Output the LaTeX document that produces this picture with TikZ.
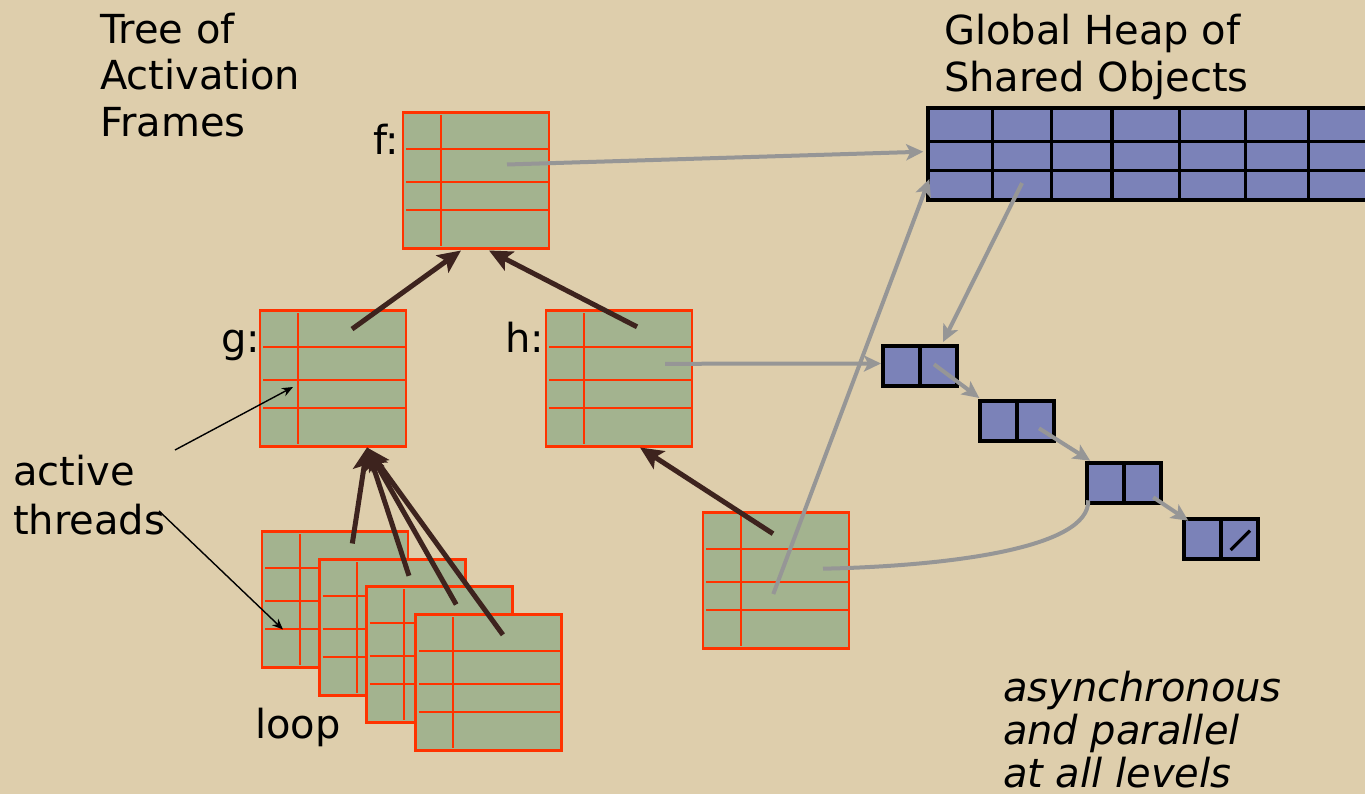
\documentclass[tikz,border=0pt]{standalone}
\usepackage{fontspec}
\setmainfont{DejaVu Sans}
\usetikzlibrary{arrows.meta,calc}

\definecolor{paper}{RGB}{222,206,172}
\definecolor{framefill}{RGB}{163,179,143}
\definecolor{framered}{RGB}{255,51,0}
\definecolor{heapfill}{RGB}{123,130,184}
\definecolor{ptrgray}{RGB}{150,150,150}
\definecolor{linkbrown}{RGB}{61,35,30}

\tikzset{
  actframe/.style={rectangle, draw=framered, fill=framefill, line width=2.2pt,
    minimum width=146pt, minimum height=136pt, inner sep=0pt, outer sep=0pt},
  framerule/.style={draw=framered, line width=2pt},
  heapbox/.style={rectangle, draw=black, fill=heapfill, line width=4pt, inner sep=0pt, outer sep=0pt},
  heaprule/.style={draw=black, line width=3.2pt},
  cons/.style={heapbox, minimum width=74pt, minimum height=40pt},
  ptr/.style={draw=ptrgray, line width=4pt, -{Stealth[length=17pt,width=16pt,inset=4pt]}},
  ptrline/.style={draw=ptrgray, line width=4pt},
  parent/.style={draw=linkbrown, line width=5pt, -{Stealth[length=23pt,width=21pt,inset=5pt]}},
  hint/.style={draw=black, line width=1.4pt, -{Stealth[length=11pt,width=9pt]}},
  txt/.style={font=\fontsize{40}{46.7}\selectfont, inner sep=0pt, outer sep=0pt, anchor=base west, align=left},
}

% inner rules of an activation frame: one column divider, three row dividers
\newcommand\framerules[1]{%
  \draw[framerule] ($(#1.north west)!0.26!(#1.north east)+(0,2.5)$) --
                   ($(#1.south west)!0.26!(#1.south east)+(0,-2.5)$);
  \foreach \fr in {0.27,0.51,0.72}{%
    \draw[framerule] ($(#1.north west)!\fr!(#1.south west)+(3,0)$) --
                     ($(#1.north east)!\fr!(#1.south east)$);
  }%
}
% divider of a two-field cons cell
\newcommand\consdivider[1]{%
  \draw[line width=4pt] (#1.north) -- (#1.south);%
}

\begin{document}
\begin{tikzpicture}[x=1pt, y=-1pt]
\useasboundingbox (0,0) rectangle (1365,794);
\fill[paper] (0,0) rectangle (1365,794);
\clip (0,0) rectangle (1365,794);

% ---- titles and labels (base anchor sits on the last line)
\node[txt] (title) at (100,136.7) {Tree of\\Activation\\Frames};
\node[txt] (heaptitle) at (944,91.7) {Global Heap of\\Shared Objects};
\node[txt] (flabel) at (373,155) {f:};
\node[txt] (glabel) at (221,352) {g:};
\node[txt] (hlabel) at (505,352) {h:};
\node[txt, font=\fontsize{40}{49}\selectfont] (threads) at (13,534) {active\\threads};
\node[txt] (looplabel) at (255,738) {loop};
\node[txt, font=\fontsize{40}{43}\selectfont\itshape] (note) at (1003,787) {asynchronous\\and parallel\\at all levels};

% ---- activation frames
\node[actframe] (f) at (476,180.5) {};
\framerules{f}
\node[actframe] (g) at (333,378.5) {};
\framerules{g}
\node[actframe] (h) at (619,378.5) {};
\framerules{h}
\node[actframe] (k) at (776,580.5) {};
\framerules{k}
\node[actframe] (l1) at (335,599.5) {};
\framerules{l1}
\node[actframe] (l2) at (392.5,627.5) {};
\framerules{l2}
\node[actframe] (l3) at (439.5,654.5) {};
\framerules{l3}
\node[actframe] (l4) at (488.5,682.5) {};
\framerules{l4}

% ---- global heap
\node[heapbox, minimum width=460pt, minimum height=91.7pt] (heap) at (1158.3,154.2) {};
\foreach \fr in {0.364,0.68}{%
  \draw[heaprule] ($(heap.north west)!\fr!(heap.south west)$) -- ($(heap.north east)!\fr!(heap.south east)$);
}
\foreach \dx in {64.4,123.4,183.7,251,317,380}{%
  \draw[heaprule] ($(heap.north west)+(\dx,0)$) -- ($(heap.south west)+(\dx,0)$);
}

% ---- linked list of cons cells
\node[cons] (c1) at (920,366) {};
\consdivider{c1}
\node[cons] (c2) at (1017.3,421) {};
\consdivider{c2}
\node[cons] (c3) at (1124.2,483.3) {};
\consdivider{c3}
\node[cons] (c4) at (1221.3,538.7) {};
\consdivider{c4}
\draw[line width=3.2pt] ($(c4.center)+(9.4,11.3)$) -- ($(c4.center)+(28.7,-8)$);

% ---- pointers into the heap
\draw[ptr] ($(f.center)+(31,-16)$) -- ($(heap.west)+(-5,-2.5)$);
\draw[ptr] ($(heap.north west)+(93.7,74.7)$) -- ($(c1.north)+(23,-4)$);
\draw[ptr] ($(h.center)+(46,-14.7)$) -- ($(c1.west)+(-2,-2.5)$);
\draw[ptr] ($(k.center)+(-2.7,13.5)$) -- ($(heap.south west)+(1,-21)$);
\draw[ptrline] ($(k.center)+(47,-11.8)$) .. controls (950,566) and (1090,548) .. ($(c3.south west)+(1,-3)$);
\draw[ptr] ($(c1.center)+(14,-1.7)$) -- ($(c2.north west)+(-1,-3)$);
\draw[ptr] ($(c2.center)+(21.7,7.3)$) -- ($(c3.north west)+(3,-2.6)$);
\draw[ptr] ($(c3.center)+(29,14)$) -- ($(c4.north west)+(4,2)$);

% ---- parent links between frames
\draw[parent] ($(g.center)+(19,-49.4)$) -- ($(f.south)+(-15,2)$);
\draw[parent] ($(h.center)+(18,-51.7)$) -- ($(f.south)+(13,2)$);
\draw[parent] ($(k.center)+(-3,-46.8)$) -- ($(h.south)+(21,1)$);
\draw[parent] ($(l1.center)+(17.3,-56)$) -- ($(g.south)+(34,1)$);
\draw[parent] ($(l2.center)+(16.5,-51.7)$) -- ($(g.south)+(34,1)$);
\draw[parent] ($(l3.center)+(16.7,-50)$) -- ($(g.south)+(34,1)$);
\draw[parent] ($(l4.center)+(14.4,-47.7)$) -- ($(g.south)+(34,1)$);

% ---- markers for the active threads
\coordinate (t1) at (175,450);
\coordinate (t2) at (159,511);
\draw[hint] (t1) -- ($(g.center)+(-40,8.5)$);
\draw[hint] (t2) -- ($(l1.center)+(-52,30)$);
\end{tikzpicture}
\end{document}
